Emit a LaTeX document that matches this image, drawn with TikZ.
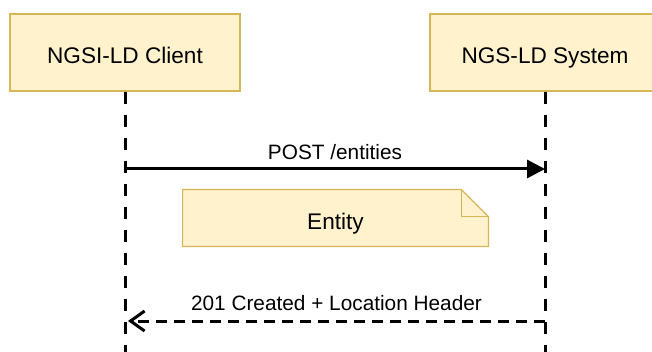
\documentclass[tikz,border=0pt]{standalone}
\usepackage{fontspec}
\setmainfont{Liberation Sans}
\usepackage{xcolor}
\usepackage{tikz}
\usetikzlibrary{positioning, arrows.meta, calc, backgrounds}
\definecolor{notefill}{HTML}{FFF2CC}
\definecolor{notedraw}{HTML}{D6B656}
\tikzset{
  actor/.style   ={draw=notedraw, fill=notefill, line width=0.6pt, rectangle,
                   minimum width=115pt, minimum height=38.5pt,
                   text height=11pt, text depth=0pt,
                   font=\fontsize{11.3}{13}\selectfont},
  notebox/.style ={rectangle, minimum width=152.5pt, minimum height=28pt,
                   text height=11.6pt, text depth=0pt,
                   font=\fontsize{11.3}{13}\selectfont},
  lifeline/.style={line width=1.5pt, dash pattern=on 6pt off 5.5pt},
  msg/.style     ={line width=1.5pt},
  reply/.style   ={line width=1.5pt, dash pattern=on 5.5pt off 3.5pt},
  msglabel/.style={above, inner sep=3.8pt, text depth=0pt,
                   font=\fontsize{10.4}{12}\selectfont}
}
\begin{document}
\begin{tikzpicture}[x=0.5pt, y=-0.5pt]
  \useasboundingbox (0,0) rectangle (652,352);

  \node[actor] (client) at (125,52.5)   {NGSI-LD Client};
  \node[actor] (system) at (545,52.5)   {NGS-LD System};

  \coordinate (bottom) at (0,352);
  \coordinate (postY)  at (0,169);
  \coordinate (replyY) at (0,321);

  % lifelines
  \draw[lifeline] (client.south) -- (client.south |- bottom);
  \draw[lifeline] (system.south) -- (system.south |- bottom);

  % request
  \draw[msg, -{Triangle[length=9pt, width=9pt]}]
       (client.south |- postY) -- node[msglabel]{POST /entities}
       (system.south |- postY);

  % note
  \node[notebox] (entity) at (335.5,218) {Entity};
  \begin{scope}[on background layer]
    \draw[notedraw, fill=notefill, line width=0.6pt]
         (entity.south west) -- (entity.north west)
         -- ($(entity.north east)+(-27,0)$) -- ($(entity.north east)+(0,27)$)
         -- (entity.south east) -- cycle;
    \draw[notedraw, line width=0.6pt]
         ($(entity.north east)+(-27,0)$) |- ($(entity.north east)+(0,27)$);
  \end{scope}

  % response
  \draw[reply, -{Straight Barb[length=7pt, width=10pt]}]
       (system.south |- replyY) -- node[msglabel, inner sep=4.4pt]{201 Created + Location Header}
       ($(client.south |- replyY)+(3,0)$);
\end{tikzpicture}
\end{document}
